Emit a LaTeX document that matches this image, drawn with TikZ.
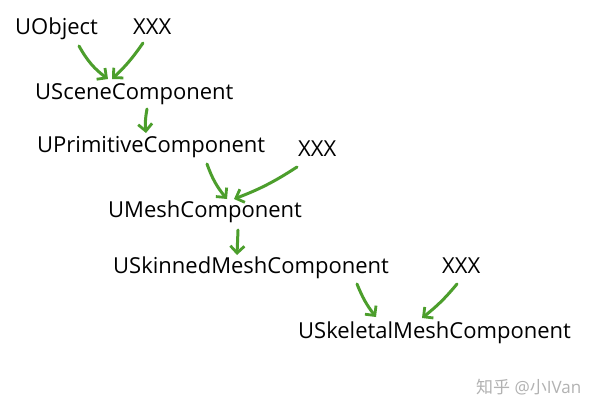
\documentclass[tikz,border=0pt]{standalone}
\usepackage{fontspec}
\setmainfont{Open Sans}
\newfontfamily\cjk{Noto Sans CJK SC}
\usetikzlibrary{arrows.meta}
\definecolor{arrowgreen}{HTML}{4C9E2C}
\begin{document}
\begin{tikzpicture}[x=1pt,y=-1pt,
  lbl/.style={anchor=base west,inner sep=0pt,font=\fontsize{22}{25}\selectfont},
  inh/.style={draw=arrowgreen,line width=3pt,line cap=round,
    -{Straight Barb[length=7pt,width=14pt,line width=2.8pt]}}]
\useasboundingbox (0,0) rectangle (606,412);
\fill[white] (0,0) rectangle (606,412);
\node[lbl] (obj) at (15,35) {UObject};
\node[lbl] (x1) at (133,35) {XXX};
\node[lbl] (scene) at (35,100) {USceneComponent};
\node[lbl] (prim) at (37,153) {UPrimitiveComponent};
\node[lbl] (x2) at (298,157) {XXX};
\node[lbl] (mesh) at (108,217) {UMeshComponent};
\node[lbl] (skin) at (113,273) {USkinnedMeshComponent};
\node[lbl] (x3) at (442,273) {XXX};
\node[lbl] (skel) at (298,338) {USkeletalMeshComponent};
\node[anchor=base west,inner sep=0pt,text=black!30,font=\fontsize{17}{19}\selectfont] (wm) at (476,393) {{\cjk 知乎} @{\cjk 小}IVan};
\coordinate (a1s) at (79,46); \coordinate (a1e) at (108,79);
\coordinate (a2s) at (143,43); \coordinate (a2e) at (112,79);
\coordinate (a3s) at (147,109); \coordinate (a3e) at (146,133);
\coordinate (a4s) at (207,164); \coordinate (a4e) at (227,199);
\coordinate (a5s) at (297,167); \coordinate (a5e) at (234,199);
\coordinate (a6s) at (238,230); \coordinate (a6e) at (237,255);
\coordinate (a7s) at (357,284); \coordinate (a7e) at (376,317);
\coordinate (a8s) at (457,284); \coordinate (a8e) at (422,318);
\draw[inh] (a1s) to[bend right=12] (a1e);
\draw[inh] (a2s) to[bend left=6] (a2e);
\draw[inh] (a3s) to[bend right=8] (a3e);
\draw[inh] (a4s) to[bend right=10] (a4e);
\draw[inh] (a5s) to[bend left=6] (a5e);
\draw[inh] (a6s) to (a6e);
\draw[inh] (a7s) to[bend right=8] (a7e);
\draw[inh] (a8s) to[bend left=6] (a8e);
\end{tikzpicture}
\end{document}
